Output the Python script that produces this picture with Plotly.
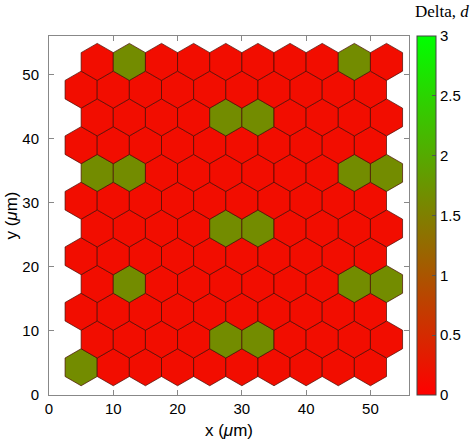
import numpy as np
import plotly.graph_objects as go
from plotly.colors import sample_colorscale

# Delta value of every hexagonal cell, 12 rows (bottom to top) x 10 cells
RED = 0.15
GRN = 1.65
delta_rows = [
    [GRN, RED, RED, RED, RED, RED, RED, RED, RED, RED],
    [RED, RED, RED, RED, GRN, GRN, RED, RED, RED, RED],
    [RED, RED, RED, RED, RED, RED, RED, RED, RED, RED],
    [RED, GRN, RED, RED, RED, RED, RED, RED, GRN, GRN],
    [RED, RED, RED, RED, RED, RED, RED, RED, RED, RED],
    [RED, RED, RED, RED, GRN, GRN, RED, RED, RED, RED],
    [RED, RED, RED, RED, RED, RED, RED, RED, RED, RED],
    [GRN, GRN, RED, RED, RED, RED, RED, RED, GRN, GRN],
    [RED, RED, RED, RED, RED, RED, RED, RED, RED, RED],
    [RED, RED, RED, RED, GRN, GRN, RED, RED, RED, RED],
    [RED, RED, RED, RED, RED, RED, RED, RED, RED, RED],
    [RED, GRN, RED, RED, RED, RED, RED, RED, GRN, RED],
]
cell_pitch = 5.0  # um, centre to centre
cbar_ticks = [0, 0.5, 1, 1.5, 2, 2.5, 3]
axis_ticks = [0, 10, 20, 30, 40, 50]

scale = [[0, "rgb(255,0,0)"], [1, "rgb(0,255,0)"]]
cmin, cmax = 0, 3

r = cell_pitch / np.sqrt(3)  # circumradius of pointy-top hexagon
ang = np.deg2rad(np.arange(30, 390, 60))

fig = go.Figure()
cx_all, cy_all, v_all = [], [], []
for k, row in enumerate(delta_rows):
    cy = (k + 1) * cell_pitch * np.sqrt(3) / 2
    x0 = cell_pitch if k % 2 == 0 else 1.5 * cell_pitch
    for j, v in enumerate(row):
        cx = x0 + j * cell_pitch
        col = sample_colorscale(scale, [(v - cmin) / (cmax - cmin)])[0]
        fig.add_trace(go.Scatter(
            x=list(cx + r * np.cos(ang)) + [cx + r * np.cos(ang[0])],
            y=list(cy + r * np.sin(ang)) + [cy + r * np.sin(ang[0])],
            mode="lines", fill="toself", fillcolor=col,
            line=dict(color="rgb(70,10,0)", width=0.7),
            hoverinfo="skip", showlegend=False,
        ))
        cx_all.append(cx)
        cy_all.append(cy)
        v_all.append(v)

# invisible points just to carry the colour bar
fig.add_trace(go.Scatter(
    x=cx_all, y=cy_all, mode="markers", showlegend=False,
    text=[f"{v:.2f}" for v in v_all], hovertemplate="d = %{text}<extra></extra>",
    marker=dict(size=1, opacity=0, color=v_all, colorscale=scale, cmin=cmin, cmax=cmax,
                showscale=True,
                colorbar=dict(x=1.022, xanchor="left", xpad=0, y=0.5, len=1, ypad=0,
                              thickness=19, outlinewidth=1, outlinecolor="#444",
                              tickvals=cbar_ticks, ticktext=[str(t) for t in cbar_ticks],
                              ticks="inside", ticklen=4, tickcolor="#555",
                              tickfont=dict(size=15, color="black"))),
))

axis_style = dict(range=[0, 56], tickvals=axis_ticks, ticks="inside", ticklen=5,
                  tickcolor="#888", showline=True, linecolor="#888", linewidth=1,
                  mirror="ticks", showgrid=False, zeroline=False, automargin=False,
                  tickfont=dict(size=15, color="black"))

fig.update_layout(
    width=474, height=447,
    margin=dict(l=49, r=65, t=36, b=52, autoexpand=False),
    paper_bgcolor="white", plot_bgcolor="white",
    font=dict(family="Liberation Sans, Arial, sans-serif", color="black"),
    xaxis=dict(axis_style, title=dict(text="x (<i>μ</i>m)", font=dict(size=17), standoff=8)),
    yaxis=dict(axis_style, ticklabelstandoff=6,
               title=dict(text="y (<i>μ</i>m)", font=dict(size=17), standoff=0)),
    annotations=[dict(text="Delta, <i>d</i>", xref="paper", yref="paper", x=1.093, y=1.0,
                      xanchor="center", yanchor="middle", yshift=25, showarrow=False,
                      font=dict(family="Liberation Serif, DejaVu Serif, serif", size=17))],
)

# page has no body margin, so the figure sits at the window's top-left corner
fig.write_html("out.html", config={"displayModeBar": False},
               post_script="document.body.style.margin='0px';")
